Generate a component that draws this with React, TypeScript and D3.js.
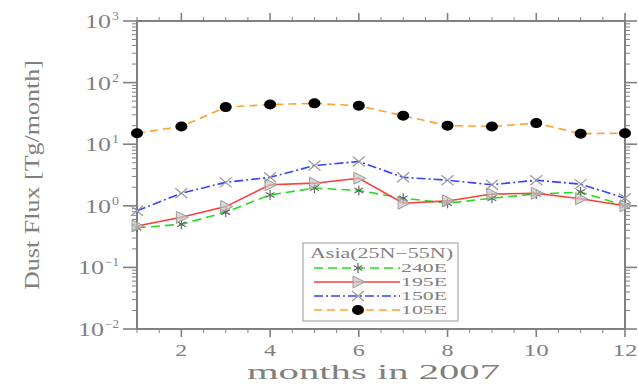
import * as d3 from 'd3';
import { FC } from 'react';

const months = [1, 2, 3, 4, 5, 6, 7, 8, 9, 10, 11, 12];
const lon240E = [0.44, 0.5, 0.79, 1.5, 1.94, 1.77, 1.33, 1.1, 1.33, 1.55, 1.67, 1.0];
const lon195E = [0.47, 0.65, 0.97, 2.2, 2.33, 2.8, 1.1, 1.2, 1.55, 1.6, 1.3, 1.0];
const lon150E = [0.83, 1.6, 2.4, 2.9, 4.5, 5.25, 2.9, 2.6, 2.2, 2.6, 2.25, 1.33];
const lon105E = [15.1, 19.4, 40, 44, 46, 42, 29, 20, 19.4, 22, 14.8, 15.1];
const seriesNames = ['240E', '195E', '150E', '105E'];
const xTicks = [2, 4, 6, 8, 10, 12];
const yExponents = ['3', '2', '1', '0', '\u22121', '\u22122'];

const W = 638;
const H = 384;
const left = 137;
const right = 625;
const top = 21;
const bottom = 329;
const grey = '#808080';
const font = "'Liberation Serif', 'DejaVu Serif', serif";

type Marker = 'star' | 'tri' | 'x' | 'dot';
const styles: { color: string; dash: string; marker: Marker }[] = [
  { color: '#22dd22', dash: '9 5', marker: 'star' },
  { color: '#ff3b3b', dash: '', marker: 'tri' },
  { color: '#3344ff', dash: '9 3 2 3', marker: 'x' },
  { color: '#ffa030', dash: '8 5', marker: 'dot' },
];

const MarkerShape: FC<{ kind: Marker; x: number; y: number }> = ({ kind, x, y }) => {
  if (kind === 'dot') return <ellipse cx={x} cy={y} rx={6} ry={5} fill="#000" />;
  if (kind === 'tri')
    return (
      <path
        d={`M${x - 5},${y - 6}L${x + 7},${y}L${x - 5},${y + 6}Z`}
        fill="#c8c8c8"
        fillOpacity={0.7}
        stroke="#999"
        strokeWidth={1}
      />
    );
  if (kind === 'x')
    return (
      <path
        d={`M${x - 6},${y - 5}L${x + 6},${y + 5}M${x - 6},${y + 5}L${x + 6},${y - 5}`}
        stroke="#999"
        strokeWidth={1.2}
      />
    );
  const r = 5;
  const a = d3.range(3).map((i) => (i * Math.PI) / 3 + Math.PI / 2);
  return (
    <path
      d={a
        .map((t) => `M${x - r * Math.cos(t)},${y - r * Math.sin(t)}L${x + r * Math.cos(t)},${y + r * Math.sin(t)}`)
        .join('')}
      stroke="#666"
      strokeWidth={1.2}
    />
  );
};

const App: FC = () => {
  const x = d3.scaleLinear().domain([1, 12]).range([left, right]);
  const y = d3.scaleLog().domain([0.01, 1000]).range([bottom, top]);
  const data = [lon240E, lon195E, lon150E, lon105E];
  const line = d3
    .line<number>()
    .x((_, i) => x(months[i]))
    .y((d) => y(d));

  const minorX = d3.range(1, 12.01, 0.5).filter((m) => !xTicks.includes(m));
  const decades = [1000, 100, 10, 1, 0.1, 0.01];
  const minorY = d3.range(-2, 3).flatMap((e) => d3.range(2, 10).map((k) => k * Math.pow(10, e)));

  const legendRows = [268, 282, 296, 310];

  return (
    <svg width={W} height={H} style={{ position: 'absolute', left: 0, top: 0, background: '#fff' }}>
      {/* frame */}
      <rect x={left} y={top} width={right - left} height={bottom - top} fill="none" stroke={grey} strokeWidth={2} />
      {/* x ticks, top and bottom, outward */}
      {xTicks.map((m) => (
        <g key={'xt' + m} stroke={grey} strokeWidth={1.6}>
          <line x1={x(m)} x2={x(m)} y1={top} y2={top - 8} />
          <line x1={x(m)} x2={x(m)} y1={bottom} y2={bottom + 8} />
        </g>
      ))}
      {minorX.map((m) => (
        <g key={'xm' + m} stroke={grey} strokeWidth={1}>
          <line x1={x(m)} x2={x(m)} y1={top} y2={top - 4} />
          <line x1={x(m)} x2={x(m)} y1={bottom} y2={bottom + 4} />
        </g>
      ))}
      {/* y ticks, left and right, outward */}
      {decades.map((v) => (
        <g key={'yt' + v} stroke={grey} strokeWidth={1.6}>
          <line x1={left} x2={left - 14} y1={y(v)} y2={y(v)} />
          <line x1={right} x2={right + 12} y1={y(v)} y2={y(v)} />
        </g>
      ))}
      {minorY.map((v) => (
        <g key={'ym' + v} stroke={grey} strokeWidth={1}>
          <line x1={left} x2={left - 5} y1={y(v)} y2={y(v)} />
          <line x1={right} x2={right + 5} y1={y(v)} y2={y(v)} />
        </g>
      ))}
      {/* tick labels */}
      {xTicks.map((m) => (
        <text
          key={'xl' + m}
          x={x(m)}
          y={356}
          textAnchor="middle"
          fontFamily={font}
          fontSize={17}
          fill={grey}
          textLength={m >= 10 ? 25 : 12}
          lengthAdjust="spacingAndGlyphs"
        >
          {m}
        </text>
      ))}
      {decades.map((v, i) => {
        const exp = yExponents[i];
        const ew = exp.length > 1 ? 14 : 7;
        const baseRight = 118 - ew;
        return (
          <g key={'yl' + v} fill={grey} fontFamily={font}>
            <text x={baseRight - 26} y={y(v) + 7} fontSize={18} textLength={26} lengthAdjust="spacingAndGlyphs">
              10
            </text>
            <text x={baseRight + 1} y={y(v) - 1} fontSize={12} textLength={ew} lengthAdjust="spacingAndGlyphs">
              {exp}
            </text>
          </g>
        );
      })}
      {/* axis titles */}
      <text
        x={247}
        y={379}
        fontFamily={font}
        fontSize={21}
        fill={grey}
        textLength={253}
        lengthAdjust="spacingAndGlyphs"
      >
        months in 2007
      </text>
      <text
        transform={`translate(39,${(60 + 290) / 2}) rotate(-90)`}
        textAnchor="middle"
        fontFamily={font}
        fontSize={22}
        fill={grey}
        textLength={230}
        lengthAdjust="spacingAndGlyphs"
      >
        Dust Flux [Tg/month]
      </text>
      {/* series */}
      {data.map((d, si) => (
        <g key={'s' + si}>
          <path
            d={line(d) as string}
            fill="none"
            stroke={styles[si].color}
            strokeWidth={1.6}
            strokeDasharray={styles[si].dash}
          />
          {d.map((v, i) => (
            <MarkerShape key={i} kind={styles[si].marker} x={x(months[i])} y={y(v)} />
          ))}
        </g>
      ))}
      {/* legend */}
      <rect x={303} y={243} width={155} height={78} fill="#fff" stroke="#aaa" strokeWidth={1.2} />
      <text x={310} y={258} fontFamily={font} fontSize={14} fill={grey} textLength={143} lengthAdjust="spacingAndGlyphs">
        Asia(25N{'\u2212'}55N)
      </text>
      {seriesNames.map((name, i) => (
        <g key={'lg' + name}>
          <line
            x1={314}
            x2={400}
            y1={legendRows[i]}
            y2={legendRows[i]}
            stroke={styles[i].color}
            strokeWidth={1.6}
            strokeDasharray={styles[i].dash}
          />
          <MarkerShape kind={styles[i].marker} x={358} y={legendRows[i]} />
          <text
            x={401}
            y={legendRows[i] + 4}
            fontFamily={font}
            fontSize={12}
            fill={grey}
            textLength={46}
            lengthAdjust="spacingAndGlyphs"
          >
            {name}
          </text>
        </g>
      ))}
    </svg>
  );
};

export default App;
